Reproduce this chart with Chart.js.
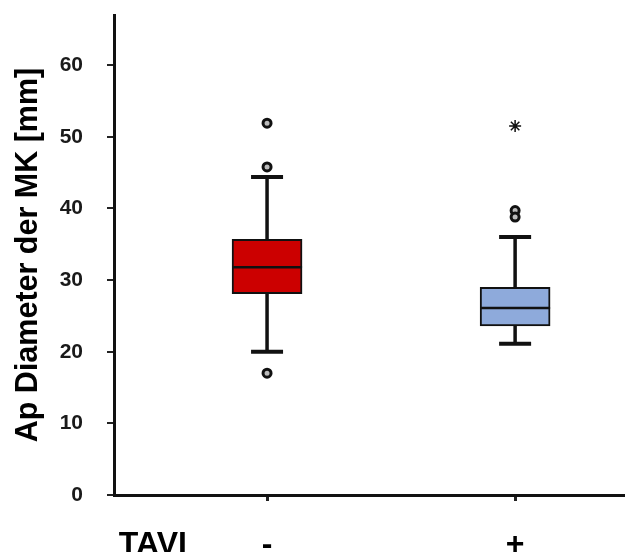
<!DOCTYPE html>
<html>
<head>
<meta charset="utf-8">
<title>Ap Diameter der MK</title>
<script src="https://cdn.jsdelivr.net/npm/chart.js@4/dist/chart.umd.min.js"></script>
<style>
  html, body { margin: 0; padding: 0; background: #fff; }
  #wrap { width: 625px; height: 552px; }
</style>
</head>
<body>
<div id="wrap"><canvas id="chart"></canvas></div>
<script>
// groups (TAVI - / +) and their box plot statistics
const groups = ['-', '+'];
const groupPos = [1, 2];
const whiskerLow = [20.0, 21.1];
const q1 = [28.1, 23.6];
const median = [31.8, 26.1];
const q3 = [35.7, 29.0];
const whiskerHigh = [44.4, 36.0];

// outliers (circles) and extreme values (asterisk)
const outliersMinus = [51.9, 45.8, 17.0];
const outliersPlus = [39.7, 38.8];
const extremesPlus = [51.5];

const yTicks = [0, 10, 20, 30, 40, 50, 60];
const groupTitle = 'TAVI';
const groupTitlePos = 0.54;

const boxColors = ['#cc0000', '#8eaadb'];

// whiskers, caps and medians drawn with the chart scales
const boxPlotLines = {
    id: 'boxPlotLines',
    afterDatasetsDraw(chart) {
        const ctx = chart.ctx;
        const xs = chart.scales.x;
        const ys = chart.scales.y;
        ctx.save();
        ctx.strokeStyle = '#111';
        groups.forEach((g, i) => {
            const x = xs.getPixelForValue(groupPos[i]);
            // whiskers
            ctx.lineWidth = 3.5;
            ctx.beginPath();
            ctx.moveTo(x, ys.getPixelForValue(q3[i]));
            ctx.lineTo(x, ys.getPixelForValue(whiskerHigh[i]));
            ctx.moveTo(x, ys.getPixelForValue(q1[i]));
            ctx.lineTo(x, ys.getPixelForValue(whiskerLow[i]));
            ctx.stroke();
            // caps
            ctx.lineWidth = 4;
            ctx.beginPath();
            [whiskerHigh[i], whiskerLow[i]].forEach(v => {
                const y = ys.getPixelForValue(v);
                ctx.moveTo(x - 16, y);
                ctx.lineTo(x + 16, y);
            });
            ctx.stroke();
            // median
            ctx.lineWidth = 2.5;
            ctx.beginPath();
            const ym = ys.getPixelForValue(median[i]);
            ctx.moveTo(x - 35, ym);
            ctx.lineTo(x + 35, ym);
            ctx.stroke();
        });
        ctx.restore();
    }
};

new Chart(document.getElementById('chart'), {
    type: 'bar',
    data: {
        datasets: [
            {
                type: 'scatter',
                data: outliersMinus.map(v => ({ x: groupPos[0], y: v }))
                    .concat(outliersPlus.map(v => ({ x: groupPos[1], y: v }))),
                pointStyle: 'circle',
                pointRadius: 4,
                backgroundColor: '#bbb',
                borderColor: '#111',
                borderWidth: 3,
                order: 0
            },
            {
                type: 'scatter',
                data: extremesPlus.map(v => ({ x: groupPos[1], y: v })),
                pointStyle: 'star',
                pointRadius: 6,
                borderColor: '#111',
                borderWidth: 1.5,
                order: 0
            },
            {
                data: groups.map((g, i) => ({ x: groupPos[i], y: [q1[i], q3[i]] })),
                backgroundColor: boxColors,
                borderColor: '#111',
                borderWidth: 2,
                borderSkipped: false,
                barThickness: 70,
                order: 1
            }
        ]
    },
    options: {
        responsive: true,
        maintainAspectRatio: false,
        animation: false,
        layout: { autoPadding: false, padding: { top: 15, right: 0, bottom: 0, left: 0 } },
        plugins: {
            legend: { display: false },
            tooltip: { enabled: false }
        },
        scales: {
            x: {
                type: 'linear',
                offset: false,
                min: 0.383,
                max: 2.443,
                afterBuildTicks: scale => {
                    scale.ticks = [{ value: groupTitlePos }].concat(groupPos.map(v => ({ value: v })));
                },
                afterFit: scale => {
                    scale.height = 57;
                    scale.paddingLeft = 0;
                    scale.paddingRight = 0;
                },
                ticks: {
                    autoSkip: false,
                    maxRotation: 0,
                    padding: 25,
                    color: '#000',
                    font: { family: 'Liberation Sans, Arial, sans-serif', size: 32, weight: 'bold' },
                    callback: value => {
                        const i = groupPos.indexOf(value);
                        return i >= 0 ? groups[i] : groupTitle;
                    }
                },
                grid: {
                    offset: false,
                    drawOnChartArea: false,
                    drawTicks: true,
                    tickLength: 6,
                    lineWidth: 3,
                    tickColor: ctx => (ctx.tick && ctx.tick.value === groupTitlePos) ? 'rgba(0,0,0,0)' : '#222'
                },
                border: { display: true, color: '#111', width: 3 }
            },
            y: {
                min: 0,
                max: 67,
                afterBuildTicks: scale => {
                    scale.ticks = yTicks.map(v => ({ value: v }));
                },
                afterFit: scale => {
                    scale.width = 114;
                    scale.paddingTop = 0;
                    scale.paddingBottom = 0;
                },
                ticks: {
                    padding: 24,
                    color: '#1a1a1a',
                    font: { family: 'Liberation Sans, Arial, sans-serif', size: 21, weight: 'bold' }
                },
                grid: {
                    drawOnChartArea: false,
                    drawTicks: true,
                    tickLength: 7,
                    lineWidth: 2,
                    tickColor: '#222'
                },
                border: { display: true, color: '#111', width: 3 },
                title: {
                    display: true,
                    text: 'Ap Diameter der MK [mm]',
                    color: '#000',
                    padding: { top: 10, bottom: 0 },
                    font: { family: 'Liberation Sans, Arial, sans-serif', size: 30.5, weight: 'bold' }
                }
            }
        }
    },
    plugins: [boxPlotLines]
});
</script>
</body>
</html>
